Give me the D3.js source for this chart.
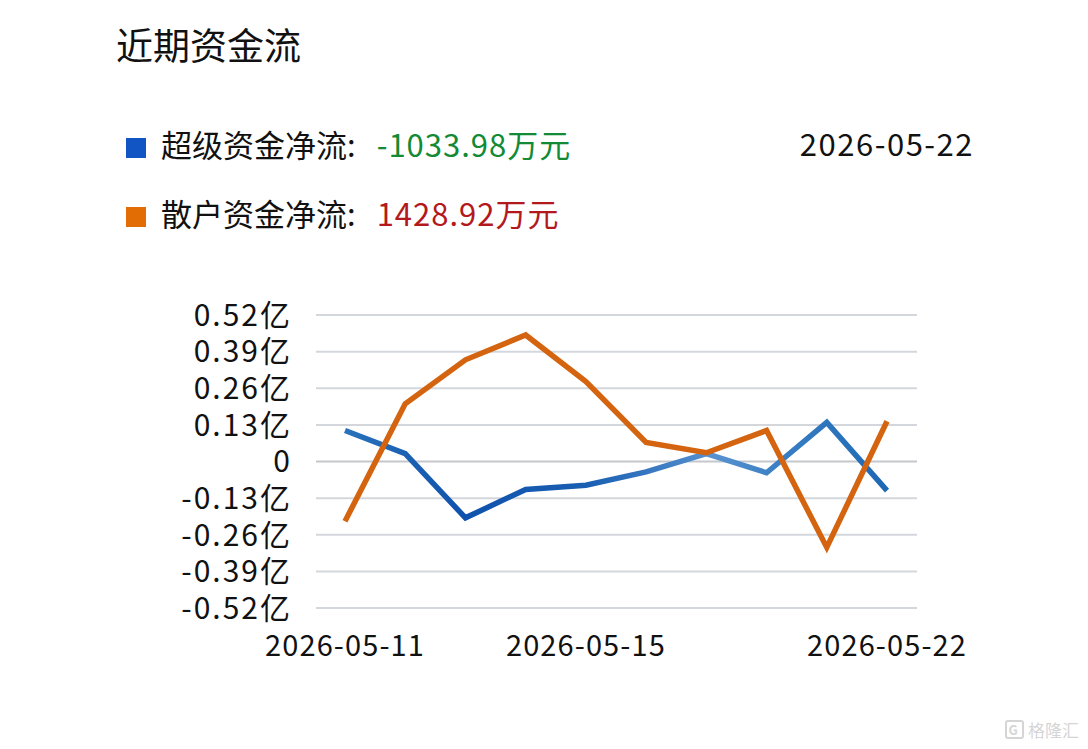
<!DOCTYPE html>
<html>
<head>
<meta charset="UTF-8">
<title>近期资金流</title>
<script src="https://d3js.org/d3.v7.min.js"></script>
<style>
  body { margin: 0; background: #fff; }
  svg { display: block; }
  text { font-family: "Noto Sans CJK SC", "Noto Sans", sans-serif; }
</style>
</head>
<body>
<svg width="1088" height="749"></svg>
<script>
// data (亿元)
let dates = ["2026-05-11", "2026-05-12", "2026-05-13", "2026-05-14", "2026-05-15",
             "2026-05-18", "2026-05-19", "2026-05-20", "2026-05-21", "2026-05-22"];
let superFlow = [0.110, 0.028, -0.200, -0.099, -0.084, -0.037, 0.028, -0.040, 0.139, -0.1034];
let retailFlow = [-0.212, 0.205, 0.361, 0.449, 0.284, 0.068, 0.031, 0.110, -0.305, 0.1429];
let yTicks = [0.52, 0.39, 0.26, 0.13, 0, -0.13, -0.26, -0.39, -0.52];
let xLabelDates = ["2026-05-11", "2026-05-15", "2026-05-22"];

let svg = d3.select("svg");

svg.append("text")
    .attr("x", 116).attr("y", 60)
    .attr("font-size", 37)
    .attr("fill", "#111")
    .text("近期资金流");

// legend rows
let legendRows = [
    { color: "#1155c4", label: "超级资金净流:", value: "-1033.98万元", valueColor: "#138a35", y: 157 },
    { color: "#e36d05", label: "散户资金净流:", value: "1428.92万元", valueColor: "#b3191c", y: 226 }
];
legendRows.forEach(r => {
    svg.append("rect")
        .attr("x", 126).attr("y", r.y - 19)
        .attr("width", 20).attr("height", 20)
        .attr("fill", r.color);
    let t = svg.append("text")
        .attr("x", 161).attr("y", r.y)
        .attr("font-size", 31)
        .attr("fill", "#111");
    t.append("tspan").text(r.label);
    t.append("tspan").attr("dx", 21).attr("fill", r.valueColor)
        .attr("letter-spacing", 1).text(r.value);
});

svg.append("text")
    .attr("x", 974).attr("y", 156)
    .attr("text-anchor", "end")
    .attr("font-size", 31)
    .attr("letter-spacing", 1.5)
    .attr("fill", "#111")
    .text("2026-05-22");

// chart
let x = d3.scalePoint().domain(dates).range([345, 887]);
let y = d3.scaleLinear().domain([-0.52, 0.52]).range([608, 315]);

svg.append("g")
    .selectAll("line")
    .data(yTicks)
    .enter().append("line")
    .attr("x1", 316).attr("x2", 917)
    .attr("y1", d => y(d)).attr("y2", d => y(d))
    .attr("stroke", d => d === 0 ? "#c4c8cd" : "#d3d7dc")
    .attr("stroke-width", 2);

svg.append("g")
    .selectAll("text")
    .data(yTicks)
    .enter().append("text")
    .attr("x", 292)
    .attr("y", d => y(d))
    .attr("dy", "0.36em")
    .attr("text-anchor", "end")
    .attr("font-size", 30)
    .attr("letter-spacing", 2)
    .attr("fill", "#111")
    .text(d => d === 0 ? "0" : d.toFixed(2) + "亿");

svg.append("g")
    .selectAll("text")
    .data(xLabelDates)
    .enter().append("text")
    .attr("x", d => x(d))
    .attr("y", 656)
    .attr("text-anchor", "middle")
    .attr("font-size", 29)
    .attr("letter-spacing", 1.1)
    .attr("fill", "#111")
    .text(d => d);

// blue line gets a slight colour shift along x like the reference
let defs = svg.append("defs");
let grad = defs.append("linearGradient")
    .attr("id", "blueGrad")
    .attr("gradientUnits", "userSpaceOnUse")
    .attr("x1", 345).attr("x2", 887).attr("y1", 0).attr("y2", 0);
[[0, "#2a72ba"], [0.22, "#0f52ad"], [0.45, "#1a5fb2"], [0.68, "#5792cf"],
 [0.8, "#3a7fc4"], [1, "#1d68b4"]].forEach(s => {
    grad.append("stop").attr("offset", s[0]).attr("stop-color", s[1]);
});

let line = d3.line()
    .x((d, i) => x(dates[i]))
    .y(d => y(d));

svg.append("path")
    .datum(superFlow)
    .attr("d", line)
    .attr("fill", "none")
    .attr("stroke", "url(#blueGrad)")
    .attr("stroke-width", 5.5);

svg.append("path")
    .datum(retailFlow)
    .attr("d", line)
    .attr("fill", "none")
    .attr("stroke", "#d4640f")
    .attr("stroke-width", 5.5);

// watermark
let wm = svg.append("g").attr("opacity", 0.35);
wm.append("rect")
    .attr("x", 1006).attr("y", 721)
    .attr("width", 17).attr("height", 17)
    .attr("rx", 2)
    .attr("fill", "none")
    .attr("stroke", "#888")
    .attr("stroke-width", 2);
wm.append("text")
    .attr("x", 1008.5).attr("y", 735)
    .attr("font-size", 13)
    .attr("font-weight", "bold")
    .attr("fill", "#888")
    .text("G");
wm.append("text")
    .attr("x", 1028).attr("y", 737)
    .attr("font-size", 17)
    .attr("fill", "#888")
    .text("格隆汇");
</script>
</body>
</html>
